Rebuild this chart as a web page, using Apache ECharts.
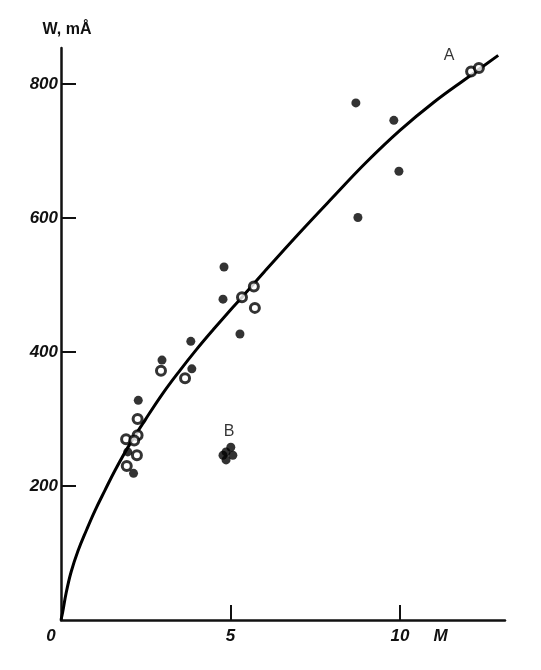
<!DOCTYPE html>
<html><head><meta charset="utf-8">
<script src="https://cdn.jsdelivr.net/npm/echarts@6/dist/echarts.min.js"></script>
<style>html,body{margin:0;padding:0;background:#fff}#c{width:541px;height:670px}</style>
</head><body><div id="c"></div>
<script>
// fitted curve: [M, W]
const curvePts = [[0,0],[0.05,12],[0.15,40],[0.3,72],[0.5,103],[0.75,134],[1.0,163],[1.3,194],[1.6,224],[2.0,260],[2.5,300],[3.0,338],[3.5,372],[4.0,404],[4.5,434],[5.0,463],[5.34,482],[6.0,520],[7.0,576],[8.0,630],[9.0,683],[10.0,731],[11.0,773],[12.0,810],[12.9,843]];
// filled dots
const filledPts = [[8.70,772],[9.82,746],[8.76,601],[9.97,670],[4.81,527],[4.78,479],[5.28,427],[3.83,416],[2.98,388],[3.86,375],[2.28,328],[2.14,219],[1.97,251]];
// ringed dots (white centre)
const ringPts = [[12.10,819],[12.33,824],[5.69,498],[5.34,482],[5.72,466],[2.95,372],[3.66,361],[2.26,300],[2.26,276],[1.92,270],[2.16,268],[2.24,246],[1.94,230]];
// cluster B
const clusterB = [[4.87,251],[5.01,258],[4.87,239],[5.07,246],[4.78,246]];
const xLabels = [0,5,10];
const xTicks = [5,10];
const yTicks = [200,400,600,800];
const letterPts = [[11.45,843,'A'],[4.96,281,'B']];

const chart = echarts.init(document.getElementById('c'));
const lab = {fontFamily:'Liberation Sans',fontStyle:'italic',fontWeight:'bold',fontSize:17,color:'#111'};
chart.setOption({
  animation:false,
  grid:{left:61,right:36,top:48,bottom:50},
  xAxis:{type:'value',min:0,max:13.1,
    axisLine:{lineStyle:{color:'#111',width:2.5}},
    splitLine:{show:false},
    axisTick:{inside:true,length:15,lineStyle:{color:'#111',width:2},customValues:xTicks},
    axisLabel:Object.assign({},lab,{margin:8,customValues:xLabels,
      formatter:v=>v===0?'{z|0}':String(v),
      rich:{z:Object.assign({},lab,{padding:[0,20,0,0]})}})
  },
  yAxis:{type:'value',min:0,max:854,
    axisLine:{show:true,lineStyle:{color:'#111',width:2.5}},
    splitLine:{show:false},
    axisTick:{show:true,inside:true,length:15,lineStyle:{color:'#111',width:2},customValues:yTicks},
    axisLabel:Object.assign({},lab,{margin:3,customValues:yTicks})
  },
  series:[
    {type:'line',data:curvePts,smooth:0.4,showSymbol:false,lineStyle:{color:'#000',width:3},z:2},
    {type:'scatter',data:filledPts,symbolSize:9,itemStyle:{color:'#000'},z:3},
    {type:'scatter',data:ringPts,symbolSize:9,itemStyle:{color:'#fff',borderColor:'#000',borderWidth:3},z:3},
    {type:'scatter',data:clusterB,symbolSize:9,itemStyle:{color:'#000'},z:3},
    {type:'scatter',data:letterPts.map(p=>[p[0],p[1]]),symbolSize:0,z:4,
      label:{show:true,position:'inside',formatter:p=>letterPts[p.dataIndex][2],
        fontFamily:'Liberation Sans',fontSize:16,color:'#000'}}
  ]
});
const mPos = chart.convertToPixel({xAxisIndex:0,yAxisIndex:0},[11.2,0]);
const wPos = chart.convertToPixel({xAxisIndex:0,yAxisIndex:0},[0,854]);
chart.setOption({graphic:[
  {type:'text',x:mPos[0],y:mPos[1]+16,style:{text:'M',fill:'#111',font:'italic bold 17px "Liberation Sans"',align:'center',verticalAlign:'middle'}},
  {type:'text',x:wPos[0]+6,y:wPos[1]-18,style:{text:'W, mÅ',fill:'#111',font:'bold 16px "Liberation Sans"',align:'center',verticalAlign:'middle'}}
]});
</script></body></html>
